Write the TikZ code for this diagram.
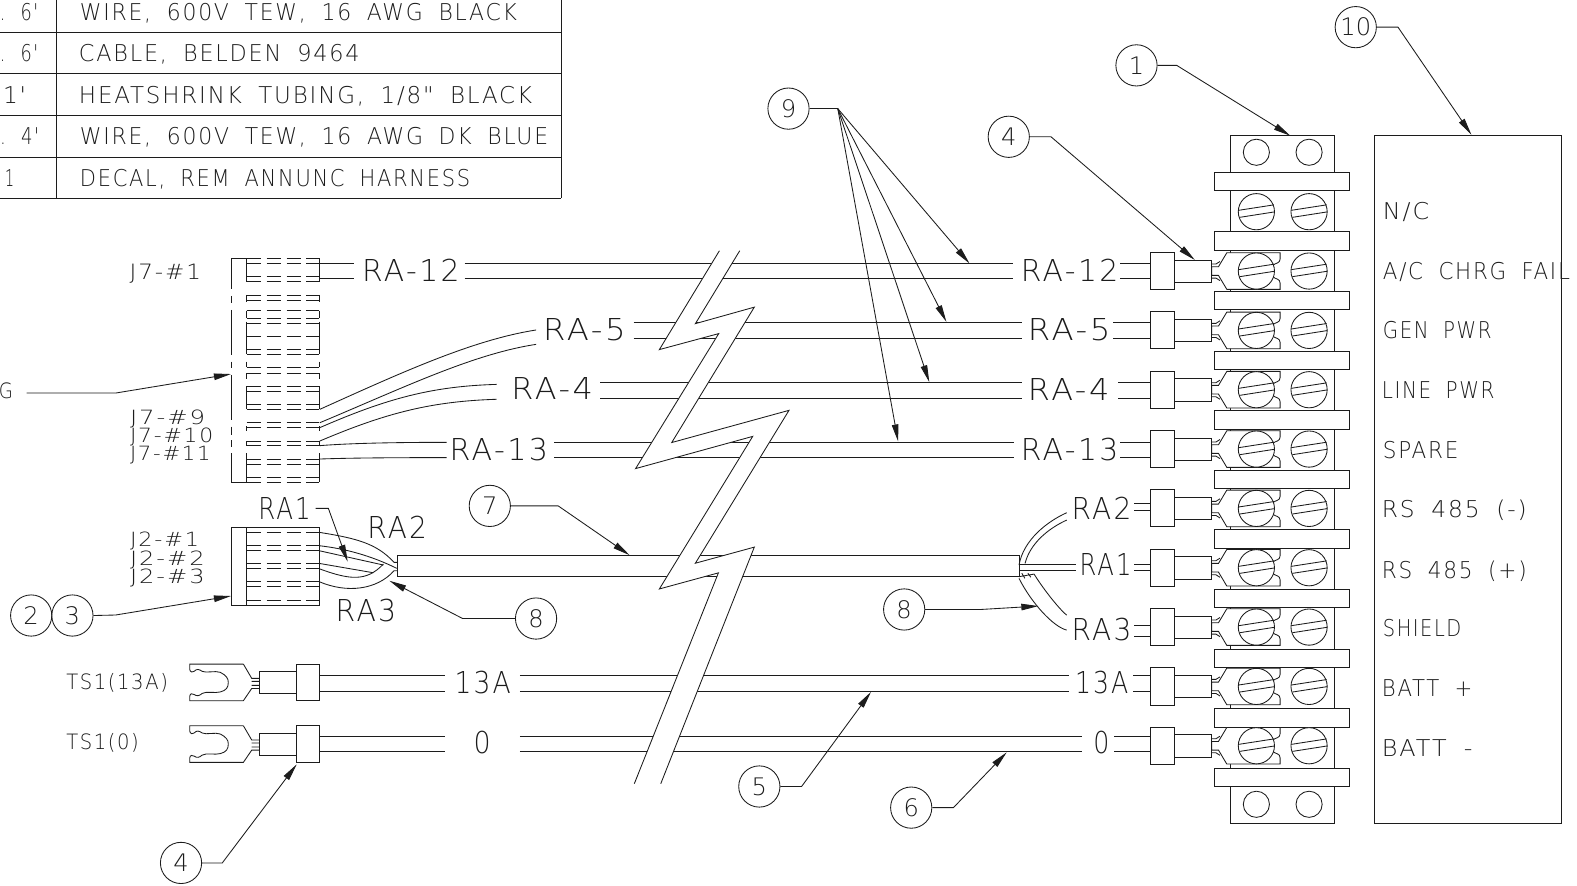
\documentclass[tikz,border=0pt]{standalone}
\usepackage{fontspec}
\usepackage{graphicx}
\usetikzlibrary{arrows.meta}
\newfontfamily\cad[LetterSpace=8,WordSpace=1.8]{DejaVu Sans ExtraLight}
\newfontfamily\cadtight{DejaVu Sans ExtraLight}
\definecolor{ink}{HTML}{1C1C1C}
\newcounter{tn}
\newcommand\T[5]{\stepcounter{tn}\node[txt,font=\cad\fontsize{#4}{#4}\selectfont] (t\arabic{tn}) at (#1,#3) {\resizebox{\dimexpr #2pt-#1pt\relax}{\height}{#5}};}
\newcommand\Callout[4]{\node[callout] (#1) at (#2,#3) {#4};}
\newcommand\RowLug[1]{%
 \begin{scope}[shift={(0,210.5+59*#1)}]
 \draw[fill=white] (1204.8,-4.3)--(1211.5,-4.3)--(1219.8,-18.2)--(1272.8,-18.2)--(1272.8,-12)
   .. controls (1272.8,-7.5) and (1268,-8) .. (1266,-6) -- (1266,6)
   .. controls (1268,8) and (1272.8,7.5) .. (1272.8,12) -- (1272.8,18.2)--(1219.8,18.2)--(1211.5,4.3)--(1204.8,4.3)--cycle;
 \draw (1204.8,-7)--(1209,-7)--(1213,-9.5) (1204.8,7)--(1209,7)--(1213,9.5);
 \draw[fill=white] (1167.4,-11) rectangle (1204.8,11.4);
 \draw[fill=white] (1144.2,-18.4) rectangle (1167.4,18.4);
 \end{scope}}
\newcommand\Spade[1]{%
 \begin{scope}[shift={(0,#1)}]
 \draw (242,-18.2)--(188.6,-18.2)--(188.6,-13) .. controls (189,-10) and (192,-9.5) .. (193,-11)
  .. controls (196,-14) and (198,-13) .. (201,-11) .. controls (205,-9) and (214,-12) .. (219,-10)
  .. controls (225,-7) and (227,-4) .. (227,0) .. controls (227,5) and (225,8) .. (219,9.5)
  .. controls (214,11) and (205,8.5) .. (201,11) .. controls (198,13.5) and (196,14) .. (193,12)
  .. controls (191,10.5) and (189,11) .. (188.6,14)--(188.6,18.2)--(242,18.2)--(250.3,6)--(257.5,6);
 \draw (242,-18.2)--(250.3,-4)--(257.5,-4) (250.3,-1)--(257.5,-1) (250.3,3)--(257.5,3);
 \draw[fill=white] (257.5,-10.6) rectangle (294.3,11);
 \draw[fill=white] (294.3,-18.2) rectangle (317.5,18.2);
 \end{scope}}
\tikzset{
  txt/.style={anchor=base west,inner sep=0pt,outer sep=0pt,text=ink},
  callout/.style={draw,circle,minimum size=41pt,inner sep=0pt,font=\cadtight\fontsize{24}{24}\selectfont,text=ink},
  tip/.style={-{Triangle[length=17pt,width=6.5pt]}},
  dashrow/.style={dash pattern=on 14pt off 5.8pt},
}
\begin{document}
\begin{tikzpicture}[x=1pt,y=-1pt,line width=0.85pt,draw=ink,color=ink]
\useasboundingbox (0,0) rectangle (1568,880);
\fill[white] (0,0) rectangle (1568,880);
% ---- table
\draw (56.3,0)--(56.3,197) (0,32)--(558,32) (0,73.5)--(558,73.5) (0,115)--(558,115) (0,156.3)--(558,156.3) (0,197)--(558,197) (558,0)--(558,197);
\def\ts{23}
\T{79.5}{514}{20.5}{\ts}{WIRE, 600V TEW, 16 AWG BLACK}
\T{78.5}{357.5}{61.5}{\ts}{CABLE, BELDEN 9464}
\T{78.5}{529}{102.5}{\ts}{HEATSHRINK TUBING, 1/8" BLACK}
\T{79.5}{545}{144}{\ts}{WIRE, 600V TEW, 16 AWG DK BLUE}
\T{79.5}{467.5}{185.5}{\ts}{DECAL, REM ANNUNC HARNESS}
\T{0}{38}{20.5}{\ts}{. 6'}
\T{0}{38}{61.5}{\ts}{. 6'}
\T{3}{26}{102.5}{\ts}{1'}
\T{0}{39}{144}{\ts}{. 4'}
\T{5}{14}{185.5}{\ts}{1}
% ---- long wires
\foreach \xa/\xb/\yy in {462/1007/262,462/1007/277,630/1016/321,630/1016/336.4,597/1016/380.1,597/1016/395.7,551/1008/439.5,551/1008/454.8,517/1063/671.2,517/1063/687,517/1075.6/731.8,517/1075.6/747.2}
  \draw (\xa,\yy)--(\xb,\yy);
% ---- cable
\draw (395.4,552.2) rectangle (1013.2,573);
% ---- lightning break
\fill[white] (715.3,249.3)--(655.6,347.6)--(714.6,331.7)--(632,465.9)--(748.4,433.9)--(655.6,585.6)--(714.3,569.6)--(630.7,779.2)
  --(657,779.2)--(750,544)--(691.4,560)--(784.5,408)--(667.9,440)--(750,305.4)--(691.4,321.8)--(735.5,249.3)--cycle;
\draw (715.3,249.3)--(655.6,347.6)--(714.6,331.7)--(632,465.9)--(748.4,433.9)--(655.6,585.6)--(714.3,569.6)--(630.7,779.2);
\draw (735.5,249.3)--(691.4,321.8)--(750,305.4)--(667.9,440)--(784.5,408)--(691.4,560)--(750,544)--(657,779.2);
% ---- terminal block
\draw (1223,135) rectangle (1327,818.5);
\foreach \i in {0,...,10} \draw[fill=white] (1207.5,171.3+59.26*\i) rectangle (1342,189.5+59.26*\i);
\foreach \x in {1249.2,1301.6} {
  \draw (\x,151.4) circle[radius=13pt];
  \draw (\x,799.7) circle[radius=13pt];
}
% short wires + lugs
\foreach \j in {1,...,9} {\RowLug{\j}}
\foreach \x in {1249.2,1301.6} \foreach \j in {0,...,9} {
 \begin{scope}[shift={(\x,210.5+59*\j)}]
  \draw[fill=white] (0,0) circle[radius=18pt];
  \draw (-17.6,-1.4)--(17.4,-6.8) (-16.6,5.6)--(18,0.2);
 \end{scope}}
\foreach \xa/\yy in {1114/262,1114/277,1107/321,1107/336.4,1112/380.1,1112/395.7,1114/439.5,1114/454.8,1128/500.5,1128/508,1128/561.1,1128/567.4,1128/621.5,1128/633,1126.9/671.2,1126.9/687,1107.7/731.8,1107.7/747.2}
  \draw (\xa,\yy)--(1144.2,\yy);
% ---- right panel
\draw (1367,135) rectangle (1552,818.5);
\def\ps{23}
\T{1375}{1421}{218.5}{\ps}{N/C}
\T{1375}{1561}{278}{\ps}{A/C CHRG FAIL}
\T{1375}{1483}{336.5}{\ps}{GEN PWR}
\T{1374}{1486}{396}{\ps}{LINE PWR}
\T{1375}{1450}{456}{\ps}{SPARE}
\T{1374}{1518}{515}{\ps}{RS 485 (-)}
\T{1374}{1518}{575}{\ps}{RS 485 (+)}
\T{1375}{1453}{633}{\ps}{SHIELD}
\T{1374}{1464}{693}{\ps}{BATT +}
\T{1374}{1464}{752}{\ps}{BATT -}
% ---- right wire labels
\def\ws{30}
\T{1015}{1112}{280}{\ws}{RA-12}
\T{1022}{1104}{339}{\ws}{RA-5}
\T{1022}{1103}{398}{\ws}{RA-4}
\T{1015}{1112}{458}{\ws}{RA-13}
\T{1065.5}{1125}{517}{\ws}{RA2}
\T{1073.5}{1125}{572.7}{\ws}{RA1}
\T{1065.5}{1125}{637}{\ws}{RA3}
\T{1069}{1122}{689.4}{\ws}{13A}
\T{1087}{1103}{749}{\ws}{0}
% ---- left wire labels
\T{360}{457}{280}{\ws}{RA-12}
\T{540}{622}{338.7}{\ws}{RA-5}
\T{508.5}{589.5}{397.7}{\ws}{RA-4}
\T{447}{545}{458}{\ws}{RA-13}
\T{257}{309}{516.4}{\ws}{RA1}
\T{365.2}{424.5}{535.3}{\ws}{RA2}
\T{333.8}{394}{618.1}{\ws}{RA3}
\T{452}{508}{690}{\ws}{13A}
\T{471}{488}{749}{\ws}{0}
% ---- small labels
\def\ss{21}
\def\sq{19.5}
\T{129}{200}{278}{\ss}{J7-\#1}
\T{129.3}{204}{421.9}{\sq}{J7-\#9}
\T{129.3}{212}{440.2}{\sq}{J7-\#10}
\T{129.3}{209.5}{458}{\sq}{J7-\#11}
\T{129.3}{198}{543.6}{\sq}{J2-\#1}
\T{129.3}{203.5}{561.8}{\sq}{J2-\#2}
\T{129.3}{203.5}{580}{\sq}{J2-\#3}
\T{66}{167}{686}{\ss}{TS1(13A)}
\T{66}{138}{745}{\ss}{TS1(0)}
\T{-1}{13}{396}{\ss}{G}
% ---- J7 connector
\foreach \a/\b in {256.8/287.7,294.3/301.6,308.2/353,359.6/366.2,372.9/417.6,424.2/432.5,437.5/444.8,450.8/479.6}
  \draw (229.7,\a)--(229.7,\b);
\foreach \x in {245.3,317.5} \foreach \a/\b in {256.8/280,293.3/300,308.9/316.5,319.8/352.3,359.6/365.2,371.2/377,383.8/407,424/429,438.5/443.1,450.8/479.6}
  \draw (\x,\a)--(\x,\b);
\foreach \yy in {256.8,479.6} \draw (229.7,\yy)--(245.3,\yy);
\foreach \yy in {256.8,261.8,275.1,280,293.3,298.3,308.9,316.5,321.5,334.1,347.3,352.3,365.2,371.2,383.8,389.4,402,407,420.3,425.2,438.5,443.1,456.4,461.4,474.6,479.6}
  \draw[dashrow] (245.3,\yy)--(317.5,\yy);
% J7 wires
\draw (317.5,261.8)--(352,261.8) (317.5,277)--(352,277);
\draw (318,407) .. controls (400,370) and (470,338) .. (533,328.1);
\draw (318,420.3) .. controls (400,386) and (470,352) .. (533,342.4);
\draw (318,425.2) .. controls (385,396) and (430,384) .. (493.8,382.2);
\draw (318,438.5) .. controls (385,410) and (430,399) .. (493.8,397);
\draw (318,443.1) .. controls (350,440.5) and (400,439.8) .. (444,439.8);
\draw (318,456.4) .. controls (350,455.2) and (400,455) .. (444,455);
% ---- J2 connector
\draw (230,524.3) rectangle (317.5,602);
\draw (245.3,524.3)--(245.3,602);
\foreach \yy in {529.3,542.6,547.6,560.2,565.5,578.4,583.4,596.6}
  \draw[dashrow] (245.3,\yy)--(317.5,\yy);
% J2 wires
\draw (317.5,529.3) .. controls (354.7,535.3) and (374.6,540.3) .. (391.8,559.2)--(395.4,559.2);
\draw (317.5,542.6) .. controls (341.4,545.3) and (367.9,551.9) .. (394.5,565.1);
\draw (317.5,547.6)--(381.2,561.8);
\draw (317.5,560.2)--(371.3,569.5);
\draw (317.5,565.5) .. controls (348,576.8) and (364.6,578.4) .. (381.2,560.8);
\draw (317.5,578.4) .. controls (344.7,590) and (374.6,586.7) .. (391.8,567.5)--(395.4,567.5);
% ---- right cable fan
\draw (1013.2,561.8) .. controls (1017.6,537) and (1040.8,518.7) .. (1060.6,509.8);
\draw (1019.2,560.2) .. controls (1024.2,540.3) and (1042.4,525.4) .. (1060.6,517.1);
\draw (1013.2,561.2)--(1069.9,561.2) (1013.2,567.5)--(1069.9,567.5);
\draw (1013.2,575.1) .. controls (1025.8,600) and (1047.4,623.2) .. (1060.6,626.5);
\draw (1028.2,570.8) .. controls (1035.8,583.4) and (1052.4,605) .. (1060.6,611.6);
\draw (1013.2,573.4)--(1028.2,570.8) (1016,570)--(1019,575) (1022,570)--(1025,574);
% ---- spades
\Spade{678.5}
\Spade{739.8}
\foreach \yy in {671.2,687,731.8,747.2} \draw (317.5,\yy)--(442.5,\yy);
% ---- callouts
\Callout{c10}{1348}{27}{10}
\Callout{c1}{1130}{65}{1}
\Callout{c4a}{1003}{136}{4}
\Callout{c9}{784}{108}{9}
\Callout{c7}{487}{503}{7}
\Callout{c8a}{533}{615}{8}
\Callout{c2}{31}{612}{2}
\Callout{c3}{72}{612}{3}
\Callout{c8b}{899}{606}{8}
\Callout{c5}{755}{782}{5}
\Callout{c6}{906}{803}{6}
\Callout{c4b}{180}{858}{4}
\coordinate (e10) at (1463,134);
\coordinate (e1) at (1283,135);
\coordinate (e4a) at (1188,258.5);
\coordinate (hub9) at (833,108);
\coordinate (e9a) at (964,262);
\coordinate (e9b) at (941,320);
\coordinate (e9c) at (924,380);
\coordinate (e9d) at (893,439);
\coordinate (e7) at (626,552);
\coordinate (e8a) at (387.1,577.4);
\coordinate (e23) at (229.7,592.6);
\coordinate (eG) at (229.7,371.9);
\coordinate (sG) at (26.5,390.8);
\coordinate (e8b) at (1032.5,602.6);
\coordinate (e5) at (866,688);
\coordinate (e6) at (1001,748);
\coordinate (e4b) at (295,760);
\coordinate (eRA) at (345.7,558.5);
\coordinate (sRA) at (313.9,505.5);
\draw[tip] (c10.east)--(1390,27)--(e10);
\draw[tip] (c1.east)--(1170,65)--(e1);
\draw[tip] (c4a.east)--(1045,136)--(e4a);
\draw[line width=1.5pt] (c9.east)--(hub9);
\draw[tip] (hub9)--(e9a);
\draw[tip] (hub9)--(e9b);
\draw[tip] (hub9)--(e9c);
\draw[tip] (hub9)--(e9d);
\draw[tip] (c7.east)--(555,503)--(e7);
\draw[tip] (c8a.west)--(460,615)--(e8a);
\draw[tip] (c3.east)--(115,611.5)--(e23);
\draw[tip] (sG)--(115,390.8)--(eG);
\draw[tip] (c8b.east)--(975,606)--(e8b);
\draw[tip] (c5.east)--(797,782)--(e5);
\draw[tip] (c6.east)--(948,803)--(e6);
\draw[tip] (c4b.east)--(221,858)--(e4b);
\draw[tip] (sRA)--(326.5,505.5)--(eRA);
\end{tikzpicture}
\end{document}
